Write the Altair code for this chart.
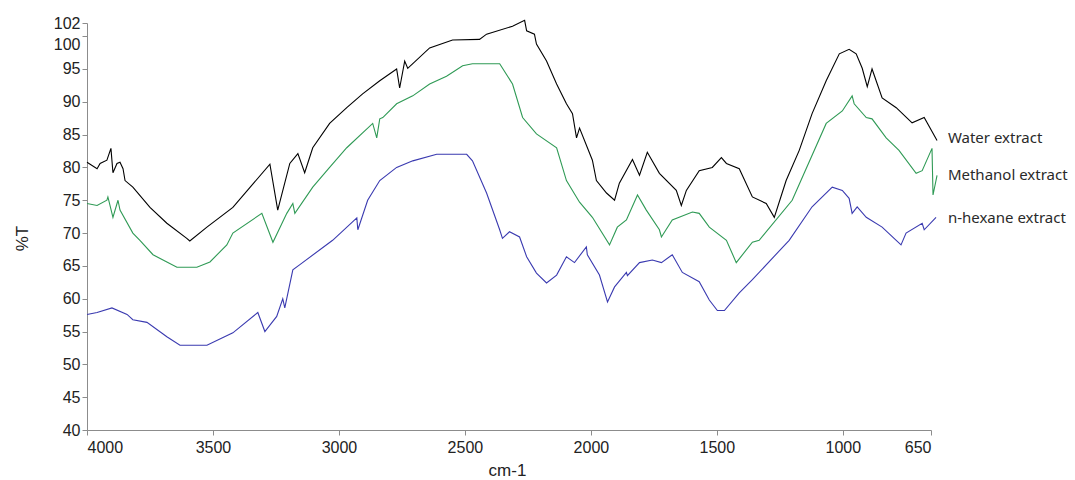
import altair as alt
import pandas as pd

# ---- data (wavenumber cm-1, %T) ----
water_wn = [4000, 3960, 3948, 3921, 3905, 3897, 3881, 3869, 3857, 3849, 3818, 3750, 3683, 3604, 3592,
            3524, 3421, 3274, 3243, 3195, 3163, 3136, 3104, 3037, 2969, 2906, 2838, 2771, 2759, 2739,
            2727, 2640, 2549, 2442, 2414, 2311, 2263, 2255, 2224, 2216, 2176, 2136, 2097, 2073, 2057,
            2045, 1994, 1978, 1938, 1906, 1887, 1835, 1807, 1776, 1728, 1661, 1641, 1621, 1570, 1518,
            1482, 1462, 1411, 1359, 1304, 1272, 1225, 1173, 1122, 1066, 1014, 975, 947, 923, 903,
            884, 844, 788, 725, 677, 626]
water_t = [80.8, 79.8, 80.6, 81.1, 82.9, 79.2, 80.6, 80.8, 79.8, 78.0, 77.0, 73.9, 71.5, 69.2, 68.8,
           70.9, 73.9, 80.5, 73.5, 80.6, 82.1, 79.2, 83.0, 86.7, 89.1, 91.2, 93.2, 95.0, 92.1, 96.2,
           95.1, 98.2, 99.4, 99.5, 100.3, 101.5, 102.4, 100.8, 100.3, 98.8, 96.2, 92.7, 89.7, 88.2, 84.5,
           86.0, 81.1, 78.0, 76.1, 75.0, 77.6, 81.2, 78.8, 82.3, 79.1, 76.5, 74.2, 76.5, 79.5, 80.0,
           81.5, 80.6, 79.8, 75.5, 74.5, 72.4, 78.0, 82.6, 88.2, 93.2, 97.3, 98.0, 97.3, 95.1, 92.3,
           95.0, 90.6, 89.1, 86.8, 87.6, 84.1]

methanol_wn = [4000, 3960, 3921, 3917, 3897, 3877, 3869, 3818, 3790, 3738, 3683, 3643, 3564, 3512, 3445,
               3421, 3306, 3262, 3207, 3183, 3175, 3104, 3037, 2969, 2866, 2850, 2838, 2826, 2771, 2707,
               2640, 2573, 2509, 2470, 2362, 2311, 2271, 2216, 2136, 2097, 2045, 1994, 1926, 1895, 1859,
               1815, 1780, 1728, 1720, 1677, 1597, 1570, 1530, 1462, 1423, 1359, 1332, 1201, 1066, 1002,
               963, 955, 907, 884, 828, 777, 709, 685, 646, 642, 626]
methanol_t = [74.5, 74.2, 75.0, 75.5, 72.4, 75.0, 73.5, 70.0, 68.9, 66.7, 65.6, 64.8, 64.8, 65.6, 68.2,
              70.0, 73.0, 68.6, 73.0, 74.5, 73.0, 77.0, 80.0, 83.0, 86.7, 84.5, 87.4, 87.6, 89.7, 90.9,
              92.7, 93.9, 95.5, 95.8, 95.8, 92.7, 87.6, 85.1, 83.0, 78.0, 74.7, 72.4, 68.2, 70.9, 72.0,
              75.8, 73.5, 70.5, 69.4, 72.0, 73.2, 73.0, 70.9, 68.9, 65.5, 68.6, 68.9, 75.0, 86.7, 88.6,
              90.9, 89.7, 87.6, 87.4, 84.5, 82.6, 79.1, 79.5, 82.9, 75.8, 78.8]

hexane_wn = [4000, 3960, 3901, 3841, 3818, 3762, 3683, 3631, 3524, 3421, 3322, 3294, 3247, 3223, 3215,
             3183, 3155, 3025, 2929, 2925, 2886, 2838, 2771, 2707, 2612, 2493, 2470, 2414, 2362, 2351,
             2323, 2283, 2255, 2216, 2176, 2136, 2097, 2065, 2018, 2014, 1966, 1934, 1906, 1859, 1855,
             1807, 1756, 1720, 1677, 1637, 1570, 1530, 1498, 1470, 1411, 1359, 1213, 1122, 1042, 1002,
             975, 963, 943, 907, 844, 788, 769, 749, 685, 677, 630]
hexane_t = [57.6, 57.9, 58.6, 57.6, 56.8, 56.4, 54.2, 52.9, 52.9, 54.8, 57.9, 55.0, 57.3, 60.0, 58.6,
            64.4, 65.2, 68.9, 72.3, 70.5, 75.0, 78.0, 80.0, 81.0, 82.0, 82.0, 81.0, 76.1, 70.5, 69.2,
            70.2, 69.4, 66.4, 63.9, 62.4, 63.6, 66.4, 65.5, 67.9, 66.7, 63.6, 59.5, 61.8, 64.0, 63.5,
            65.5, 65.9, 65.5, 66.7, 64.0, 62.6, 59.8, 58.2, 58.2, 60.9, 62.9, 68.9, 74.0, 77.0, 76.5,
            75.3, 73.0, 74.0, 72.4, 70.9, 68.9, 68.2, 70.0, 71.5, 70.5, 72.4]

series_names = ["Water extract", "Methanol extract", "n-hexane extract"]
series_colors = ["#000000", "#2f9a55", "#3a3ab0"]
label_wn = [583, 583, 583]
label_t = [84.5, 78.85, 72.3]

y_ticks = [40, 45, 50, 55, 60, 65, 70, 75, 80, 85, 90, 95, 100, 102]
x_ticks = [4000, 3500, 3000, 2500, 2000, 1500, 1000, 650]

rows = []
for name, wns, ts in zip(series_names, [water_wn, methanol_wn, hexane_wn], [water_t, methanol_t, hexane_t]):
    for i, (w, t) in enumerate(zip(wns, ts)):
        rows.append({"series": name, "wn": w, "T": t, "idx": i})
df = pd.DataFrame(rows)
labels = pd.DataFrame({"series": series_names, "wn": label_wn, "T": label_t})

axis_font = "Liberation Sans"
xscale = alt.Scale(domain=[650, 4000], reverse=True, nice=False, zero=False)
yscale = alt.Scale(domain=[40, 102], nice=False, zero=False)
cscale = alt.Scale(domain=series_names, range=series_colors)

x_axis = alt.Axis(values=x_ticks, format="d", title="cm-1", grid=False,
                  domainColor="#8c8c8c", tickColor="#8c8c8c", tickSize=5,
                  labelFont=axis_font, labelFontSize=16, labelColor="#222222",
                  labelPadding=4, labelOverlap=False,
                  titleFont=axis_font, titleFontSize=17, titleFontWeight="normal",
                  titleColor="#222222", titleX=420, titleY=40, titleBaseline="middle")
y_axis = alt.Axis(values=y_ticks, format="d", title="%T", grid=False, tickCount=14,
                  domainColor="#8c8c8c", tickColor="#8c8c8c", tickSize=5,
                  labelFont=axis_font, labelFontSize=16, labelColor="#222222",
                  labelPadding=2, labelOverlap=False,
                  labelOffset={"condition": {"test": "datum.value == 100", "value": 8}, "value": 0},
                  titleFont=axis_font, titleFontSize=17, titleFontWeight="normal",
                  titleColor="#222222", titleAngle=270, titleX=-65, titleY=215,
                  titleBaseline="middle", titleAlign="center")

lines = alt.Chart(df).mark_line(strokeWidth=1.1).encode(
    x=alt.X("wn:Q", scale=xscale, axis=x_axis),
    y=alt.Y("T:Q", scale=yscale, axis=y_axis),
    color=alt.Color("series:N", scale=cscale, legend=None),
    order="idx:Q",
)

texts = alt.Chart(labels).mark_text(align="left", baseline="middle", font="Noto Sans",
                                    fontSize=15, color="#2a2a2a").encode(
    x=alt.X("wn:Q", scale=xscale, axis=x_axis),
    y=alt.Y("T:Q", scale=yscale, axis=y_axis),
    text="series:N",
)

chart = alt.layer(lines, texts).properties(
    width=844, height=407,
    autosize=alt.AutoSizeParams(type="none"),
    padding={"left": 87, "top": 23, "right": 144, "bottom": 50},
    background="white",
).configure_view(stroke=None)

chart.save("out.html", embed_options={"renderer": "svg", "actions": False})
